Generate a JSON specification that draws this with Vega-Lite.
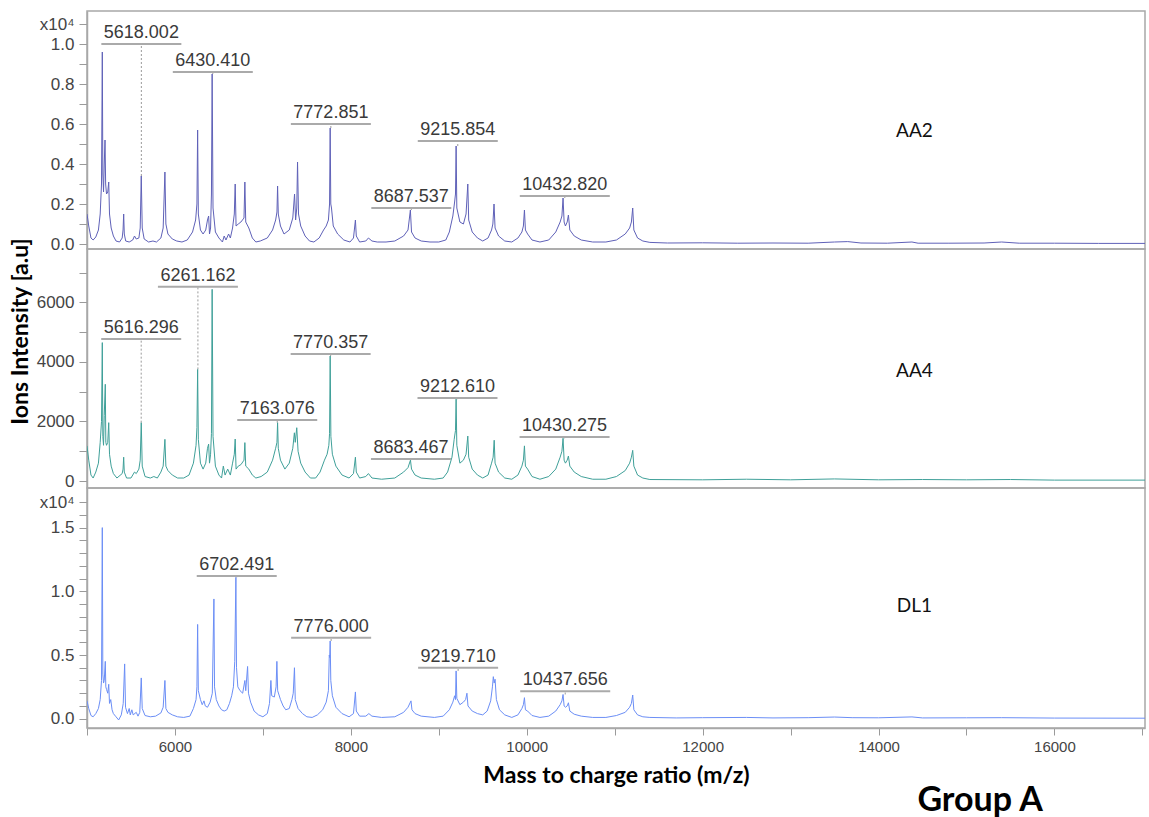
{
"$schema":"https://vega.github.io/schema/vega-lite/v6.json",
"padding":{"left":8,"top":10,"right":2,"bottom":5},
"background":"white",
"config":{"view":{"stroke":"#a8a8a8","strokeWidth":1.5},"font":"Liberation Sans",
 "axis":{"grid":false,"domainColor":"#a8a8a8","tickColor":"#9a9a9a","labelColor":"#444444","labelFont":"Liberation Sans","labelFontSize":17,"tickSize":8,"labelPadding":5,"domainWidth":1.5}},
"title":{"text":"Group A","orient":"bottom","anchor":"end","dx":-103,"offset":-4,"font":"Lato","fontSize":34,"fontWeight":"bold","color":"#000000"},
"spacing":0,
"bounds":"flush",
"resolve":{"scale":{"y":"independent"}},
"datasets":{
"AA2":[{"mz":5000,"v":1500},{"mz":5020,"v":900},{"mz":5045,"v":300},{"mz":5070,"v":200},{"mz":5100,"v":350},{"mz":5130,"v":700},{"mz":5150,"v":1500},{"mz":5165,"v":3000},{"mz":5174,"v":9600},{"mz":5180,"v":3500},{"mz":5188,"v":2600},{"mz":5196,"v":4000},{"mz":5205,"v":5200},{"mz":5212,"v":3000},{"mz":5222,"v":2500},{"mz":5236,"v":2600},{"mz":5247,"v":3100},{"mz":5256,"v":1500},{"mz":5275,"v":800},{"mz":5300,"v":400},{"mz":5330,"v":150},{"mz":5370,"v":100},{"mz":5400,"v":300},{"mz":5410,"v":700},{"mz":5417,"v":1500},{"mz":5424,"v":500},{"mz":5440,"v":150},{"mz":5480,"v":100},{"mz":5520,"v":200},{"mz":5540,"v":400},{"mz":5560,"v":250},{"mz":5590,"v":300},{"mz":5605,"v":800},{"mz":5617,"v":3400},{"mz":5628,"v":800},{"mz":5650,"v":250},{"mz":5700,"v":100},{"mz":5750,"v":150},{"mz":5790,"v":100},{"mz":5840,"v":300},{"mz":5866,"v":800},{"mz":5886,"v":3600},{"mz":5897,"v":1000},{"mz":5920,"v":500},{"mz":5970,"v":250},{"mz":6020,"v":150},{"mz":6080,"v":100},{"mz":6140,"v":200},{"mz":6200,"v":600},{"mz":6235,"v":1200},{"mz":6250,"v":2000},{"mz":6258,"v":5700},{"mz":6266,"v":1500},{"mz":6290,"v":700},{"mz":6320,"v":500},{"mz":6350,"v":700},{"mz":6370,"v":1200},{"mz":6383,"v":1400},{"mz":6393,"v":500},{"mz":6405,"v":800},{"mz":6415,"v":2500},{"mz":6423,"v":8500},{"mz":6433,"v":1800},{"mz":6460,"v":600},{"mz":6500,"v":300},{"mz":6540,"v":100},{"mz":6560,"v":400},{"mz":6580,"v":200},{"mz":6610,"v":500},{"mz":6630,"v":300},{"mz":6655,"v":800},{"mz":6675,"v":1500},{"mz":6685,"v":3000},{"mz":6695,"v":900},{"mz":6720,"v":1000},{"mz":6750,"v":1100},{"mz":6785,"v":1300},{"mz":6795,"v":3100},{"mz":6805,"v":1100},{"mz":6840,"v":800},{"mz":6880,"v":300},{"mz":6920,"v":100},{"mz":6970,"v":150},{"mz":7050,"v":300},{"mz":7110,"v":700},{"mz":7145,"v":1200},{"mz":7160,"v":1600},{"mz":7167,"v":2900},{"mz":7175,"v":1500},{"mz":7200,"v":900},{"mz":7240,"v":500},{"mz":7300,"v":700},{"mz":7340,"v":1300},{"mz":7360,"v":2500},{"mz":7372,"v":1200},{"mz":7385,"v":1800},{"mz":7394,"v":4100},{"mz":7405,"v":1500},{"mz":7430,"v":900},{"mz":7480,"v":400},{"mz":7530,"v":150},{"mz":7580,"v":100},{"mz":7640,"v":300},{"mz":7690,"v":700},{"mz":7720,"v":900},{"mz":7745,"v":1200},{"mz":7758,"v":2000},{"mz":7765,"v":5800},{"mz":7772,"v":2000},{"mz":7780,"v":1800},{"mz":7800,"v":900},{"mz":7850,"v":500},{"mz":7920,"v":200},{"mz":7990,"v":100},{"mz":8030,"v":300},{"mz":8052,"v":1200},{"mz":8062,"v":400},{"mz":8100,"v":100},{"mz":8170,"v":150},{"mz":8200,"v":300},{"mz":8240,"v":150},{"mz":8300,"v":100},{"mz":8400,"v":100},{"mz":8500,"v":150},{"mz":8600,"v":400},{"mz":8650,"v":700},{"mz":8677,"v":1700},{"mz":8690,"v":600},{"mz":8730,"v":300},{"mz":8800,"v":150},{"mz":8900,"v":100},{"mz":9000,"v":100},{"mz":9080,"v":200},{"mz":9120,"v":600},{"mz":9160,"v":1400},{"mz":9180,"v":2100},{"mz":9190,"v":2500},{"mz":9197,"v":4900},{"mz":9205,"v":1800},{"mz":9240,"v":1100},{"mz":9280,"v":1000},{"mz":9310,"v":1500},{"mz":9330,"v":3000},{"mz":9340,"v":1200},{"mz":9380,"v":600},{"mz":9440,"v":300},{"mz":9500,"v":150},{"mz":9560,"v":300},{"mz":9600,"v":700},{"mz":9615,"v":1000},{"mz":9628,"v":2000},{"mz":9640,"v":800},{"mz":9680,"v":400},{"mz":9750,"v":150},{"mz":9830,"v":100},{"mz":9900,"v":300},{"mz":9945,"v":600},{"mz":9962,"v":900},{"mz":9974,"v":1700},{"mz":9985,"v":700},{"mz":10010,"v":500},{"mz":10060,"v":200},{"mz":10150,"v":100},{"mz":10250,"v":200},{"mz":10330,"v":600},{"mz":10380,"v":1100},{"mz":10400,"v":1400},{"mz":10413,"v":2300},{"mz":10425,"v":1100},{"mz":10440,"v":900},{"mz":10460,"v":1100},{"mz":10474,"v":1450},{"mz":10490,"v":700},{"mz":10540,"v":400},{"mz":10620,"v":200},{"mz":10750,"v":100},{"mz":10900,"v":100},{"mz":11020,"v":200},{"mz":11120,"v":500},{"mz":11170,"v":800},{"mz":11190,"v":1100},{"mz":11205,"v":1800},{"mz":11218,"v":700},{"mz":11260,"v":300},{"mz":11320,"v":150},{"mz":11400,"v":80},{"mz":11600,"v":50},{"mz":12000,"v":60},{"mz":12400,"v":40},{"mz":12800,"v":50},{"mz":13200,"v":40},{"mz":13500,"v":100},{"mz":13650,"v":120},{"mz":13800,"v":50},{"mz":14100,"v":40},{"mz":14380,"v":100},{"mz":14450,"v":40},{"mz":14800,"v":40},{"mz":15200,"v":50},{"mz":15400,"v":100},{"mz":15600,"v":40},{"mz":16000,"v":40},{"mz":16500,"v":30},{"mz":17030,"v":30}],
"AA4":[{"mz":5000,"v":1180},{"mz":5020,"v":700},{"mz":5045,"v":200},{"mz":5070,"v":100},{"mz":5100,"v":300},{"mz":5130,"v":600},{"mz":5150,"v":1300},{"mz":5165,"v":2000},{"mz":5174,"v":4650},{"mz":5180,"v":1500},{"mz":5188,"v":1200},{"mz":5196,"v":2200},{"mz":5208,"v":3250},{"mz":5214,"v":1300},{"mz":5222,"v":1200},{"mz":5236,"v":1300},{"mz":5247,"v":1960},{"mz":5256,"v":900},{"mz":5275,"v":500},{"mz":5300,"v":250},{"mz":5340,"v":100},{"mz":5400,"v":250},{"mz":5410,"v":400},{"mz":5417,"v":800},{"mz":5424,"v":300},{"mz":5450,"v":100},{"mz":5500,"v":100},{"mz":5540,"v":300},{"mz":5560,"v":250},{"mz":5590,"v":400},{"mz":5605,"v":700},{"mz":5617,"v":1960},{"mz":5628,"v":500},{"mz":5660,"v":150},{"mz":5720,"v":100},{"mz":5760,"v":150},{"mz":5800,"v":100},{"mz":5840,"v":300},{"mz":5866,"v":500},{"mz":5886,"v":1400},{"mz":5897,"v":500},{"mz":5920,"v":350},{"mz":5970,"v":200},{"mz":6030,"v":100},{"mz":6100,"v":100},{"mz":6160,"v":200},{"mz":6210,"v":600},{"mz":6240,"v":1200},{"mz":6250,"v":1800},{"mz":6258,"v":3750},{"mz":6266,"v":1400},{"mz":6290,"v":600},{"mz":6320,"v":400},{"mz":6350,"v":600},{"mz":6370,"v":1100},{"mz":6383,"v":1240},{"mz":6393,"v":600},{"mz":6405,"v":900},{"mz":6415,"v":1600},{"mz":6423,"v":6440},{"mz":6433,"v":1500},{"mz":6460,"v":500},{"mz":6500,"v":200},{"mz":6530,"v":100},{"mz":6550,"v":500},{"mz":6570,"v":200},{"mz":6600,"v":400},{"mz":6630,"v":200},{"mz":6655,"v":600},{"mz":6675,"v":900},{"mz":6685,"v":1410},{"mz":6695,"v":400},{"mz":6720,"v":500},{"mz":6750,"v":550},{"mz":6785,"v":700},{"mz":6795,"v":1290},{"mz":6805,"v":500},{"mz":6840,"v":400},{"mz":6880,"v":200},{"mz":6920,"v":100},{"mz":6980,"v":150},{"mz":7050,"v":300},{"mz":7110,"v":700},{"mz":7145,"v":1100},{"mz":7160,"v":1300},{"mz":7167,"v":1960},{"mz":7175,"v":1100},{"mz":7200,"v":700},{"mz":7250,"v":400},{"mz":7300,"v":600},{"mz":7340,"v":1100},{"mz":7358,"v":1620},{"mz":7368,"v":1300},{"mz":7385,"v":1790},{"mz":7400,"v":1000},{"mz":7430,"v":600},{"mz":7480,"v":300},{"mz":7540,"v":100},{"mz":7600,"v":100},{"mz":7650,"v":300},{"mz":7700,"v":700},{"mz":7730,"v":900},{"mz":7750,"v":1200},{"mz":7758,"v":1600},{"mz":7765,"v":4200},{"mz":7773,"v":1500},{"mz":7790,"v":900},{"mz":7830,"v":500},{"mz":7900,"v":200},{"mz":7980,"v":100},{"mz":8030,"v":250},{"mz":8052,"v":800},{"mz":8062,"v":300},{"mz":8100,"v":100},{"mz":8170,"v":150},{"mz":8200,"v":250},{"mz":8240,"v":100},{"mz":8350,"v":60},{"mz":8500,"v":100},{"mz":8600,"v":300},{"mz":8650,"v":450},{"mz":8678,"v":700},{"mz":8690,"v":400},{"mz":8730,"v":200},{"mz":8800,"v":100},{"mz":8950,"v":60},{"mz":9050,"v":100},{"mz":9100,"v":300},{"mz":9150,"v":800},{"mz":9175,"v":1400},{"mz":9190,"v":1700},{"mz":9197,"v":2750},{"mz":9205,"v":1200},{"mz":9240,"v":600},{"mz":9280,"v":700},{"mz":9310,"v":900},{"mz":9330,"v":1510},{"mz":9340,"v":800},{"mz":9380,"v":400},{"mz":9440,"v":200},{"mz":9500,"v":100},{"mz":9560,"v":200},{"mz":9600,"v":600},{"mz":9618,"v":800},{"mz":9630,"v":1370},{"mz":9640,"v":600},{"mz":9680,"v":300},{"mz":9750,"v":100},{"mz":9830,"v":60},{"mz":9900,"v":200},{"mz":9945,"v":500},{"mz":9962,"v":700},{"mz":9974,"v":1180},{"mz":9985,"v":500},{"mz":10010,"v":400},{"mz":10060,"v":150},{"mz":10150,"v":60},{"mz":10250,"v":150},{"mz":10330,"v":400},{"mz":10380,"v":800},{"mz":10400,"v":1000},{"mz":10413,"v":1435},{"mz":10425,"v":700},{"mz":10440,"v":600},{"mz":10460,"v":700},{"mz":10474,"v":840},{"mz":10490,"v":500},{"mz":10540,"v":300},{"mz":10620,"v":150},{"mz":10750,"v":60},{"mz":10900,"v":60},{"mz":11020,"v":150},{"mz":11120,"v":350},{"mz":11170,"v":600},{"mz":11190,"v":800},{"mz":11205,"v":1030},{"mz":11218,"v":500},{"mz":11260,"v":200},{"mz":11320,"v":100},{"mz":11400,"v":50},{"mz":12000,"v":40},{"mz":12500,"v":60},{"mz":13000,"v":40},{"mz":13500,"v":70},{"mz":14000,"v":40},{"mz":14500,"v":50},{"mz":15000,"v":40},{"mz":15500,"v":50},{"mz":16000,"v":30},{"mz":17030,"v":30}],
"DL1":[{"mz":5000,"v":1400},{"mz":5020,"v":800},{"mz":5045,"v":250},{"mz":5070,"v":150},{"mz":5100,"v":400},{"mz":5130,"v":800},{"mz":5150,"v":1500},{"mz":5165,"v":3000},{"mz":5174,"v":15000},{"mz":5180,"v":3500},{"mz":5188,"v":2800},{"mz":5196,"v":3000},{"mz":5208,"v":4500},{"mz":5214,"v":2500},{"mz":5222,"v":2300},{"mz":5236,"v":2000},{"mz":5247,"v":2700},{"mz":5256,"v":1200},{"mz":5270,"v":1500},{"mz":5285,"v":700},{"mz":5300,"v":400},{"mz":5330,"v":150},{"mz":5360,"v":-100},{"mz":5390,"v":300},{"mz":5412,"v":1200},{"mz":5428,"v":4300},{"mz":5438,"v":900},{"mz":5460,"v":400},{"mz":5480,"v":800},{"mz":5492,"v":300},{"mz":5510,"v":700},{"mz":5525,"v":300},{"mz":5560,"v":500},{"mz":5580,"v":200},{"mz":5600,"v":500},{"mz":5617,"v":3200},{"mz":5628,"v":800},{"mz":5660,"v":250},{"mz":5720,"v":150},{"mz":5780,"v":200},{"mz":5840,"v":450},{"mz":5866,"v":900},{"mz":5886,"v":3000},{"mz":5897,"v":800},{"mz":5920,"v":500},{"mz":5970,"v":300},{"mz":6030,"v":150},{"mz":6100,"v":100},{"mz":6170,"v":200},{"mz":6210,"v":800},{"mz":6240,"v":1500},{"mz":6250,"v":2500},{"mz":6258,"v":7400},{"mz":6266,"v":2200},{"mz":6290,"v":1500},{"mz":6310,"v":1100},{"mz":6330,"v":1400},{"mz":6345,"v":1000},{"mz":6370,"v":900},{"mz":6400,"v":1300},{"mz":6425,"v":2000},{"mz":6443,"v":9400},{"mz":6450,"v":2500},{"mz":6470,"v":1500},{"mz":6500,"v":1000},{"mz":6530,"v":700},{"mz":6560,"v":600},{"mz":6590,"v":700},{"mz":6620,"v":1200},{"mz":6645,"v":1800},{"mz":6665,"v":2500},{"mz":6680,"v":4500},{"mz":6693,"v":11100},{"mz":6700,"v":4000},{"mz":6715,"v":2500},{"mz":6740,"v":2200},{"mz":6770,"v":2000},{"mz":6795,"v":3000},{"mz":6805,"v":2200},{"mz":6826,"v":4100},{"mz":6836,"v":2000},{"mz":6860,"v":1300},{"mz":6900,"v":600},{"mz":6950,"v":300},{"mz":7000,"v":150},{"mz":7050,"v":400},{"mz":7075,"v":1200},{"mz":7091,"v":3000},{"mz":7100,"v":1800},{"mz":7130,"v":1700},{"mz":7150,"v":2500},{"mz":7159,"v":4500},{"mz":7168,"v":2200},{"mz":7200,"v":1500},{"mz":7230,"v":1000},{"mz":7260,"v":700},{"mz":7300,"v":800},{"mz":7330,"v":1500},{"mz":7345,"v":2000},{"mz":7359,"v":4000},{"mz":7368,"v":1500},{"mz":7400,"v":800},{"mz":7450,"v":400},{"mz":7500,"v":150},{"mz":7560,"v":100},{"mz":7620,"v":300},{"mz":7680,"v":700},{"mz":7720,"v":1300},{"mz":7745,"v":2200},{"mz":7755,"v":5000},{"mz":7760,"v":4800},{"mz":7765,"v":6100},{"mz":7772,"v":3000},{"mz":7790,"v":1800},{"mz":7830,"v":900},{"mz":7900,"v":400},{"mz":7980,"v":150},{"mz":8030,"v":400},{"mz":8052,"v":2100},{"mz":8062,"v":600},{"mz":8100,"v":200},{"mz":8170,"v":200},{"mz":8205,"v":400},{"mz":8240,"v":200},{"mz":8350,"v":100},{"mz":8500,"v":150},{"mz":8600,"v":500},{"mz":8650,"v":900},{"mz":8684,"v":1400},{"mz":8695,"v":700},{"mz":8730,"v":400},{"mz":8800,"v":200},{"mz":8950,"v":100},{"mz":9050,"v":200},{"mz":9120,"v":700},{"mz":9160,"v":1300},{"mz":9180,"v":1800},{"mz":9190,"v":1500},{"mz":9197,"v":3750},{"mz":9205,"v":1600},{"mz":9240,"v":1100},{"mz":9280,"v":1300},{"mz":9305,"v":1500},{"mz":9320,"v":2000},{"mz":9332,"v":1000},{"mz":9380,"v":600},{"mz":9440,"v":400},{"mz":9500,"v":300},{"mz":9550,"v":600},{"mz":9590,"v":1400},{"mz":9610,"v":2500},{"mz":9620,"v":3300},{"mz":9630,"v":2800},{"mz":9640,"v":3100},{"mz":9655,"v":1500},{"mz":9690,"v":700},{"mz":9750,"v":300},{"mz":9830,"v":100},{"mz":9900,"v":300},{"mz":9945,"v":800},{"mz":9962,"v":1100},{"mz":9974,"v":1650},{"mz":9985,"v":700},{"mz":10010,"v":600},{"mz":10060,"v":250},{"mz":10150,"v":100},{"mz":10250,"v":200},{"mz":10330,"v":600},{"mz":10380,"v":1100},{"mz":10400,"v":1400},{"mz":10413,"v":1900},{"mz":10425,"v":1000},{"mz":10440,"v":900},{"mz":10460,"v":1000},{"mz":10474,"v":1250},{"mz":10490,"v":600},{"mz":10540,"v":350},{"mz":10620,"v":200},{"mz":10750,"v":100},{"mz":10900,"v":100},{"mz":11020,"v":250},{"mz":11120,"v":500},{"mz":11170,"v":900},{"mz":11190,"v":1200},{"mz":11205,"v":1860},{"mz":11218,"v":700},{"mz":11260,"v":300},{"mz":11320,"v":150},{"mz":11400,"v":100},{"mz":11700,"v":60},{"mz":12000,"v":80},{"mz":12500,"v":100},{"mz":12800,"v":60},{"mz":13200,"v":80},{"mz":13500,"v":130},{"mz":13700,"v":80},{"mz":14000,"v":70},{"mz":14380,"v":140},{"mz":14500,"v":60},{"mz":15000,"v":70},{"mz":15400,"v":80},{"mz":16000,"v":50},{"mz":17030,"v":40}],
"labels":[
{"s":"AA2","mz":5618.002,"label":"5618.002","v":3400,"ly":10000},
{"s":"AA2","mz":6430.410,"label":"6430.410","v":8500,"ly":8600},
{"s":"AA2","mz":7772.851,"label":"7772.851","v":5800,"ly":6000},
{"s":"AA2","mz":8687.537,"label":"8687.537","v":1700,"ly":1800},
{"s":"AA2","mz":9215.854,"label":"9215.854","v":4900,"ly":5150},
{"s":"AA2","mz":10432.820,"label":"10432.820","v":2300,"ly":2400},
{"s":"AA4","mz":5616.296,"label":"5616.296","v":1960,"ly":4770},
{"s":"AA4","mz":6261.162,"label":"6261.162","v":3750,"ly":6530},
{"s":"AA4","mz":7163.076,"label":"7163.076","v":1960,"ly":2050},
{"s":"AA4","mz":7770.357,"label":"7770.357","v":4200,"ly":4270},
{"s":"AA4","mz":8683.467,"label":"8683.467","v":700,"ly":740},
{"s":"AA4","mz":9212.610,"label":"9212.610","v":2750,"ly":2790},
{"s":"AA4","mz":10430.275,"label":"10430.275","v":1435,"ly":1480},
{"s":"DL1","mz":6702.491,"label":"6702.491","v":11100,"ly":11200},
{"s":"DL1","mz":7776.000,"label":"7776.000","v":6100,"ly":6350},
{"s":"DL1","mz":9219.710,"label":"9219.710","v":3750,"ly":4000},
{"s":"DL1","mz":10437.656,"label":"10437.656","v":1900,"ly":2150}
]},
"vconcat":[
{"width":1058,"height":238,
 "resolve":{"axis":{"x":"independent","y":"independent"}},
 "layer":[
  {"data":{"name":"AA2"},"mark":{"type":"line","color":"#5f61b8","strokeWidth":1,"clip":true},
   "encoding":{"x":{"field":"mz","type":"quantitative","scale":{"domain":[5000,17030],"nice":false,"zero":false},"axis":null},
    "y":{"field":"v","type":"quantitative","scale":{"domain":[-250,11650],"nice":false,"zero":false},
     "axis":{"title":null,"values":[0,1000,2000,3000,4000,5000,6000,7000,8000,9000,10000,11000],"labelExpr":"datum.value == 11000 ? 'x10⁴' : (datum.value % 2000 == 0 ? format(datum.value/10000, '.1f') : '')"}}}},
  {"data":{"name":"labels"},"transform":[{"filter":"datum.s == 'AA2'"}],"mark":{"type":"rule","strokeDash":[2,2],"color":"#9a9a9a","strokeWidth":1},
   "encoding":{"x":{"field":"mz","type":"quantitative","axis":null},"y":{"field":"v","type":"quantitative","axis":null},"y2":{"field":"ly"}}},
  {"data":{"name":"labels"},"transform":[{"filter":"datum.s == 'AA2' && length(datum.label) == 8"}],"mark":{"type":"rule","color":"#aaaaaa","strokeWidth":2,"xOffset":-40,"x2Offset":40},
   "encoding":{"x":{"field":"mz","type":"quantitative","axis":null},"x2":{"field":"mz"},"y":{"field":"ly","type":"quantitative","axis":null}}},
  {"data":{"name":"labels"},"transform":[{"filter":"datum.s == 'AA2' && length(datum.label) == 9"}],"mark":{"type":"rule","color":"#aaaaaa","strokeWidth":2,"xOffset":-45,"x2Offset":45},
   "encoding":{"x":{"field":"mz","type":"quantitative","axis":null},"x2":{"field":"mz"},"y":{"field":"ly","type":"quantitative","axis":null}}},
  {"data":{"name":"labels"},"transform":[{"filter":"datum.s == 'AA2'"}],"mark":{"type":"text","baseline":"bottom","align":"center","dy":-2,"fontSize":18,"color":"#3a3a3a"},
   "encoding":{"x":{"field":"mz","type":"quantitative","axis":null},"y":{"field":"ly","type":"quantitative","axis":null},"text":{"field":"label"}}},
  {"data":{"values":[{"name":"AA2"}]},"mark":{"type":"text","font":"Lato","fontSize":19,"color":"#111111"},
   "encoding":{"x":{"datum":14408,"type":"quantitative","axis":null},"y":{"datum":5650,"type":"quantitative","axis":null},"text":{"field":"name"}}}
 ]},
{"width":1058,"height":239,
 "resolve":{"axis":{"x":"independent","y":"independent"}},
 "layer":[
  {"data":{"name":"AA4"},"mark":{"type":"line","color":"#3fa099","strokeWidth":1,"clip":true},
   "encoding":{"x":{"field":"mz","type":"quantitative","scale":{"domain":[5000,17030],"nice":false,"zero":false},"axis":null},
    "y":{"field":"v","type":"quantitative","scale":{"domain":[-235,7795],"nice":false,"zero":false},
     "axis":{"title":"Ions Intensity [a.u]","titleFont":"Lato","titleFontSize":23,"titleFontWeight":"bold","titleColor":"#000000","titlePadding":4,"titleY":82,
      "values":[0,1000,2000,3000,4000,5000,6000,7000],"labelExpr":"datum.value % 2000 == 0 ? format(datum.value, 'd') : ''"}}}},
  {"data":{"name":"labels"},"transform":[{"filter":"datum.s == 'AA4'"}],"mark":{"type":"rule","strokeDash":[2,2],"color":"#9a9a9a","strokeWidth":1},
   "encoding":{"x":{"field":"mz","type":"quantitative","axis":null},"y":{"field":"v","type":"quantitative","axis":null},"y2":{"field":"ly"}}},
  {"data":{"name":"labels"},"transform":[{"filter":"datum.s == 'AA4' && length(datum.label) == 8"}],"mark":{"type":"rule","color":"#aaaaaa","strokeWidth":2,"xOffset":-40,"x2Offset":40},
   "encoding":{"x":{"field":"mz","type":"quantitative","axis":null},"x2":{"field":"mz"},"y":{"field":"ly","type":"quantitative","axis":null}}},
  {"data":{"name":"labels"},"transform":[{"filter":"datum.s == 'AA4' && length(datum.label) == 9"}],"mark":{"type":"rule","color":"#aaaaaa","strokeWidth":2,"xOffset":-45,"x2Offset":45},
   "encoding":{"x":{"field":"mz","type":"quantitative","axis":null},"x2":{"field":"mz"},"y":{"field":"ly","type":"quantitative","axis":null}}},
  {"data":{"name":"labels"},"transform":[{"filter":"datum.s == 'AA4'"}],"mark":{"type":"text","baseline":"bottom","align":"center","dy":-2,"fontSize":18,"color":"#3a3a3a"},
   "encoding":{"x":{"field":"mz","type":"quantitative","axis":null},"y":{"field":"ly","type":"quantitative","axis":null},"text":{"field":"label"}}},
  {"data":{"values":[{"name":"AA4"}]},"mark":{"type":"text","font":"Lato","fontSize":19,"color":"#111111"},
   "encoding":{"x":{"datum":14408,"type":"quantitative","axis":null},"y":{"datum":3700,"type":"quantitative","axis":null},"text":{"field":"name"}}}
 ]},
{"width":1058,"height":240,
 "resolve":{"axis":{"x":"independent","y":"independent"}},
 "layer":[
  {"data":{"name":"DL1"},"mark":{"type":"line","color":"#6b8ef6","strokeWidth":1,"clip":true},
   "encoding":{"x":{"field":"mz","type":"quantitative","scale":{"domain":[5000,17030],"nice":false,"zero":false},
     "axis":{"title":"Mass to charge ratio (m/z)","titleFont":"Lato","titleFontSize":23,"titleFontWeight":"bold","titleColor":"#000000","titlePadding":10,
      "values":[5000,6000,7000,8000,9000,10000,11000,12000,13000,14000,15000,16000,17000],"labelExpr":"datum.value % 2000 == 0 ? format(datum.value, 'd') : ''","labelFontSize":15,"tickSize":7,"labelPadding":4}},
    "y":{"field":"v","type":"quantitative","scale":{"domain":[-730,18110],"nice":false,"zero":false},
     "axis":{"title":null,"values":[0,1000,2000,3000,4000,5000,6000,7000,8000,9000,10000,11000,12000,13000,14000,15000,16000,17000],"labelExpr":"datum.value == 17000 ? 'x10⁴' : (datum.value % 5000 == 0 ? format(datum.value/10000, '.1f') : '')"}}}},
  {"data":{"name":"labels"},"transform":[{"filter":"datum.s == 'DL1'"}],"mark":{"type":"rule","strokeDash":[2,2],"color":"#9a9a9a","strokeWidth":1},
   "encoding":{"x":{"field":"mz","type":"quantitative","axis":null},"y":{"field":"v","type":"quantitative","axis":null},"y2":{"field":"ly"}}},
  {"data":{"name":"labels"},"transform":[{"filter":"datum.s == 'DL1' && length(datum.label) == 8"}],"mark":{"type":"rule","color":"#aaaaaa","strokeWidth":2,"xOffset":-40,"x2Offset":40},
   "encoding":{"x":{"field":"mz","type":"quantitative","axis":null},"x2":{"field":"mz"},"y":{"field":"ly","type":"quantitative","axis":null}}},
  {"data":{"name":"labels"},"transform":[{"filter":"datum.s == 'DL1' && length(datum.label) == 9"}],"mark":{"type":"rule","color":"#aaaaaa","strokeWidth":2,"xOffset":-45,"x2Offset":45},
   "encoding":{"x":{"field":"mz","type":"quantitative","axis":null},"x2":{"field":"mz"},"y":{"field":"ly","type":"quantitative","axis":null}}},
  {"data":{"name":"labels"},"transform":[{"filter":"datum.s == 'DL1'"}],"mark":{"type":"text","baseline":"bottom","align":"center","dy":-2,"fontSize":18,"color":"#3a3a3a"},
   "encoding":{"x":{"field":"mz","type":"quantitative","axis":null},"y":{"field":"ly","type":"quantitative","axis":null},"text":{"field":"label"}}},
  {"data":{"values":[{"name":"DL1"}]},"mark":{"type":"text","font":"Lato","fontSize":19,"color":"#111111"},
   "encoding":{"x":{"datum":14408,"type":"quantitative","axis":null},"y":{"datum":8850,"type":"quantitative","axis":null},"text":{"field":"name"}}}
 ]}
]
}
